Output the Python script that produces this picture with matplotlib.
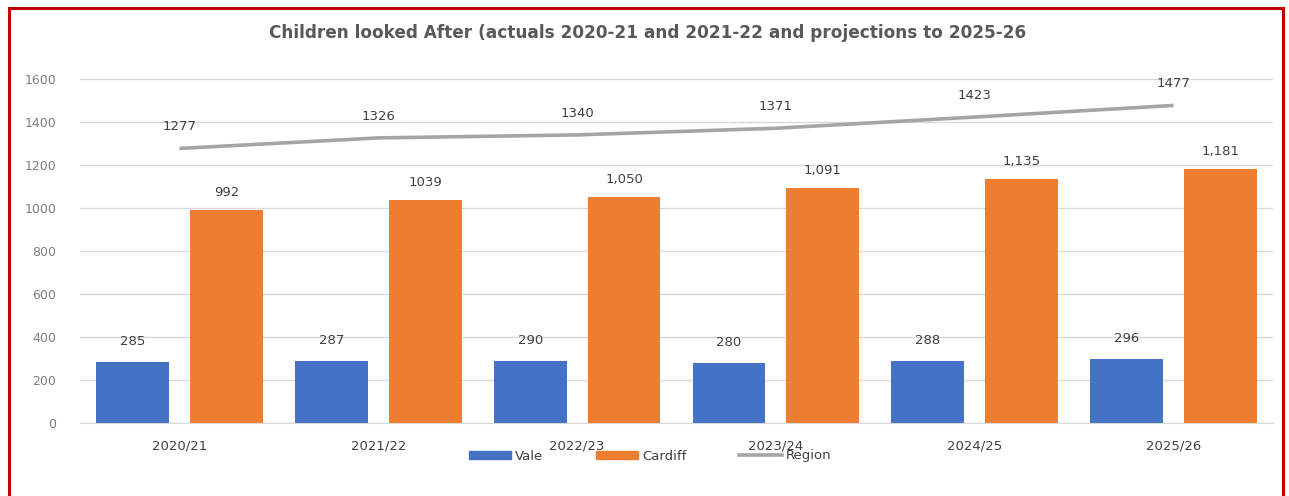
import matplotlib
matplotlib.use("Agg")
import matplotlib.pyplot as plt
from matplotlib.patches import Rectangle
from matplotlib.lines import Line2D
import numpy as np

plt.rcParams['font.family'] = ['DejaVu Sans']

years = ["2020/21", "2021/22", "2022/23", "2023/24", "2024/25", "2025/26"]
vale = [285, 287, 290, 280, 288, 296]
cardiff = [992, 1039, 1050, 1091, 1135, 1181]
cardiff_labels = ["992", "1039", "1,050", "1,091", "1,135", "1,181"]
region = [1277, 1326, 1340, 1371, 1423, 1477]
yticks = [0, 200, 400, 600, 800, 1000, 1200, 1400, 1600]

BLUE = "#4472C4"
ORANGE = "#ED7D31"
GREY = "#A5A5A5"
TEXT = "#595959"
LABEL = "#404040"

W, H = 1289, 496
fig = plt.figure(figsize=(W / 100, H / 100), dpi=100)
fig.patch.set_facecolor("white")

ax = fig.add_axes([80 / W, 1 - 423 / H, (1273 - 80) / W, (423 - 79) / H])
x = np.arange(len(years))
bw = 0.367
off = 0.236

ax.bar(x - off, vale, width=bw, color=BLUE, zorder=2)
ax.bar(x + off, cardiff, width=bw, color=ORANGE, zorder=2)
ax.plot(x, region, color=GREY, lw=2.6, zorder=3, solid_capstyle="butt")

for xi, v in zip(x, vale):
    ax.annotate(str(v), (xi - off, v), xytext=(0, 10), textcoords="offset points",
                ha="center", va="bottom", fontsize=9.5, color=LABEL)
for xi, v, lab in zip(x, cardiff, cardiff_labels):
    ax.annotate(lab, (xi + off, v), xytext=(0, 8), textcoords="offset points",
                ha="center", va="bottom", fontsize=9.5, color=LABEL)
for xi, v in zip(x, region):
    ax.annotate(str(v), (xi, v), xytext=(0, 11), textcoords="offset points",
                ha="center", va="bottom", fontsize=9.5, color=LABEL)

ax.set_xlim(-0.5, len(years) - 0.5)
ax.set_ylim(0, 1600)
ax.set_yticks(yticks)
ax.set_yticklabels([str(t) for t in yticks], fontsize=9, color="#7F7F7F")
ax.set_xticks(x)
ax.set_xticklabels(years, fontsize=9.5, color=LABEL)
ax.tick_params(length=0)
ax.tick_params(axis="x", pad=12)
ax.tick_params(axis="y", pad=17)
ax.grid(axis="y", color="#D9D9D9", lw=1, zorder=0)
for s in ["top", "right", "left"]:
    ax.spines[s].set_visible(False)
ax.spines["bottom"].set_color("#D9D9D9")

fig.text(648 / W, 1 - 33 / H,
         "Children looked After (actuals 2020-21 and 2021-22 and projections to 2025-26",
         ha="center", va="center", fontsize=12.2, fontweight="bold", color=TEXT)

handles = [
    Rectangle((0, 0), 1, 1, color=BLUE),
    Rectangle((0, 0), 1, 1, color=ORANGE),
    Line2D([], [], color=GREY, lw=2.6),
]
fig.legend(handles, ["Vale", "Cardiff", "Region"], loc="center",
           bbox_to_anchor=(650 / W, 1 - 456 / H), ncol=3, frameon=False,
           fontsize=9.5, handlelength=3.2, handleheight=0.6, columnspacing=4.0,
           handletextpad=0.3, labelcolor=LABEL)

# red frame around the chart
fig.add_artist(Rectangle((9 / W, -0.05), (1283 - 9) / W, 1.05 - 8 / H,
                         transform=fig.transFigure, fill=False,
                         edgecolor="#C00000", lw=2.2))

fig.savefig("out.png", dpi=100, facecolor="white")
